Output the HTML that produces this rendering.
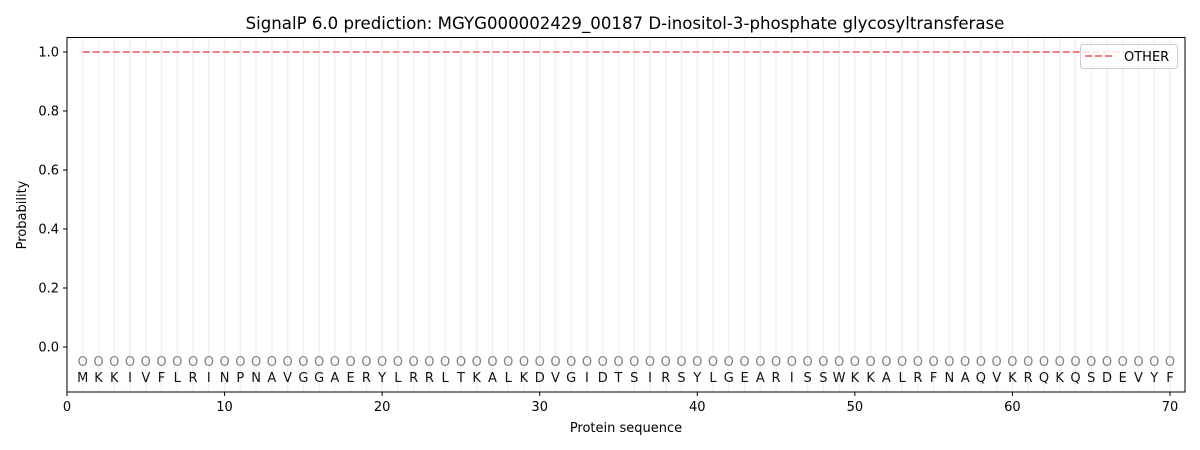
<!DOCTYPE html>
<html><head><meta charset="utf-8"><style>body{margin:0;background:#fff}svg{display:block;font-family:"DejaVu Sans","Liberation Sans",sans-serif}</style></head><body>
<svg width="1200" height="450" xmlns="http://www.w3.org/2000/svg">
<rect width="1200" height="450" fill="#fff"/>
<text x="625" y="29" font-size="16.6" text-anchor="middle">SignalP 6.0 prediction: MGYG000002429_00187 D-inositol-3-phosphate glycosyltransferase</text>
<g stroke="#ebebeb" stroke-width="1.5" stroke-opacity="0.7">
<path d="M82.76 38V392M98.51 38V392M114.27 38V392M130.03 38V392M145.79 38V392M161.54 38V392M177.3 38V392M193.06 38V392M208.81 38V392M224.57 38V392M240.33 38V392M256.08 38V392M271.84 38V392M287.6 38V392M303.36 38V392M319.11 38V392M334.87 38V392M350.63 38V392M366.38 38V392M382.14 38V392M397.9 38V392M413.65 38V392M429.41 38V392M445.17 38V392M460.93 38V392M476.68 38V392M492.44 38V392M508.2 38V392M523.95 38V392M539.71 38V392M555.47 38V392M571.22 38V392M586.98 38V392M602.74 38V392M618.5 38V392M634.25 38V392M650.01 38V392M665.77 38V392M681.52 38V392M697.28 38V392M713.04 38V392M728.79 38V392M744.55 38V392M760.31 38V392M776.07 38V392M791.82 38V392M807.58 38V392M823.34 38V392M839.09 38V392M854.85 38V392M870.61 38V392M886.36 38V392M902.12 38V392M917.88 38V392M933.64 38V392M949.39 38V392M965.15 38V392M980.91 38V392M996.66 38V392M1012.42 38V392M1028.18 38V392M1043.93 38V392M1059.69 38V392M1075.45 38V392M1091.21 38V392M1106.96 38V392M1122.72 38V392M1138.48 38V392M1154.23 38V392M1169.99 38V392"/>
</g>
<line x1="82.76" y1="52" x2="1170" y2="52" stroke="#f08080" stroke-width="2" stroke-dasharray="7,3"/>
<g font-size="13" fill="#808080" text-anchor="middle">
<text x="82.76" y="366">O</text><text x="98.51" y="366">O</text><text x="114.27" y="366">O</text><text x="130.03" y="366">O</text><text x="145.79" y="366">O</text><text x="161.54" y="366">O</text><text x="177.3" y="366">O</text><text x="193.06" y="366">O</text><text x="208.81" y="366">O</text><text x="224.57" y="366">O</text><text x="240.33" y="366">O</text><text x="256.08" y="366">O</text><text x="271.84" y="366">O</text><text x="287.6" y="366">O</text><text x="303.36" y="366">O</text><text x="319.11" y="366">O</text><text x="334.87" y="366">O</text><text x="350.63" y="366">O</text><text x="366.38" y="366">O</text><text x="382.14" y="366">O</text><text x="397.9" y="366">O</text><text x="413.65" y="366">O</text><text x="429.41" y="366">O</text><text x="445.17" y="366">O</text><text x="460.93" y="366">O</text><text x="476.68" y="366">O</text><text x="492.44" y="366">O</text><text x="508.2" y="366">O</text><text x="523.95" y="366">O</text><text x="539.71" y="366">O</text><text x="555.47" y="366">O</text><text x="571.22" y="366">O</text><text x="586.98" y="366">O</text><text x="602.74" y="366">O</text><text x="618.5" y="366">O</text><text x="634.25" y="366">O</text><text x="650.01" y="366">O</text><text x="665.77" y="366">O</text><text x="681.52" y="366">O</text><text x="697.28" y="366">O</text><text x="713.04" y="366">O</text><text x="728.79" y="366">O</text><text x="744.55" y="366">O</text><text x="760.31" y="366">O</text><text x="776.07" y="366">O</text><text x="791.82" y="366">O</text><text x="807.58" y="366">O</text><text x="823.34" y="366">O</text><text x="839.09" y="366">O</text><text x="854.85" y="366">O</text><text x="870.61" y="366">O</text><text x="886.36" y="366">O</text><text x="902.12" y="366">O</text><text x="917.88" y="366">O</text><text x="933.64" y="366">O</text><text x="949.39" y="366">O</text><text x="965.15" y="366">O</text><text x="980.91" y="366">O</text><text x="996.66" y="366">O</text><text x="1012.42" y="366">O</text><text x="1028.18" y="366">O</text><text x="1043.93" y="366">O</text><text x="1059.69" y="366">O</text><text x="1075.45" y="366">O</text><text x="1091.21" y="366">O</text><text x="1106.96" y="366">O</text><text x="1122.72" y="366">O</text><text x="1138.48" y="366">O</text><text x="1154.23" y="366">O</text><text x="1169.99" y="366">O</text>
</g>
<g font-size="13" fill="#111" text-anchor="middle">
<text x="82.76" y="382">M</text><text x="98.51" y="382">K</text><text x="114.27" y="382">K</text><text x="130.03" y="382">I</text><text x="145.79" y="382">V</text><text x="161.54" y="382">F</text><text x="177.3" y="382">L</text><text x="193.06" y="382">R</text><text x="208.81" y="382">I</text><text x="224.57" y="382">N</text><text x="240.33" y="382">P</text><text x="256.08" y="382">N</text><text x="271.84" y="382">A</text><text x="287.6" y="382">V</text><text x="303.36" y="382">G</text><text x="319.11" y="382">G</text><text x="334.87" y="382">A</text><text x="350.63" y="382">E</text><text x="366.38" y="382">R</text><text x="382.14" y="382">Y</text><text x="397.9" y="382">L</text><text x="413.65" y="382">R</text><text x="429.41" y="382">R</text><text x="445.17" y="382">L</text><text x="460.93" y="382">T</text><text x="476.68" y="382">K</text><text x="492.44" y="382">A</text><text x="508.2" y="382">L</text><text x="523.95" y="382">K</text><text x="539.71" y="382">D</text><text x="555.47" y="382">V</text><text x="571.22" y="382">G</text><text x="586.98" y="382">I</text><text x="602.74" y="382">D</text><text x="618.5" y="382">T</text><text x="634.25" y="382">S</text><text x="650.01" y="382">I</text><text x="665.77" y="382">R</text><text x="681.52" y="382">S</text><text x="697.28" y="382">Y</text><text x="713.04" y="382">L</text><text x="728.79" y="382">G</text><text x="744.55" y="382">E</text><text x="760.31" y="382">A</text><text x="776.07" y="382">R</text><text x="791.82" y="382">I</text><text x="807.58" y="382">S</text><text x="823.34" y="382">S</text><text x="839.09" y="382">W</text><text x="854.85" y="382">K</text><text x="870.61" y="382">K</text><text x="886.36" y="382">A</text><text x="902.12" y="382">L</text><text x="917.88" y="382">R</text><text x="933.64" y="382">F</text><text x="949.39" y="382">N</text><text x="965.15" y="382">A</text><text x="980.91" y="382">Q</text><text x="996.66" y="382">V</text><text x="1012.42" y="382">K</text><text x="1028.18" y="382">R</text><text x="1043.93" y="382">Q</text><text x="1059.69" y="382">K</text><text x="1075.45" y="382">Q</text><text x="1091.21" y="382">S</text><text x="1106.96" y="382">D</text><text x="1122.72" y="382">E</text><text x="1138.48" y="382">V</text><text x="1154.23" y="382">Y</text><text x="1169.99" y="382">F</text>
</g>
<rect x="67" y="37.5" width="1118" height="354.5" fill="none" stroke="#000" stroke-width="1"/>
<g stroke="#000" stroke-width="1">
<path d="M67 392v4M224.57 392v4M382.14 392v4M539.71 392v4M697.28 392v4M854.85 392v4M1012.42 392v4M1169.99 392v4"/>
<path d="M63 52h4M63 111h4M63 170h4M63 229h4M63 288h4M63 347h4"/>
</g>
<g font-size="13" fill="#000" text-anchor="middle">
<text x="67" y="411">0</text><text x="224.57" y="411">10</text><text x="382.14" y="411">20</text><text x="539.71" y="411">30</text><text x="697.28" y="411">40</text><text x="854.85" y="411">50</text><text x="1012.42" y="411">60</text><text x="1169.99" y="411">70</text>
<text x="626" y="432">Protein sequence</text>
</g>
<g font-size="13" fill="#000" text-anchor="end">
<text x="59" y="56.5">1.0</text><text x="59" y="115.5">0.8</text><text x="59" y="174.5">0.6</text><text x="59" y="233.5">0.4</text><text x="59" y="292.5">0.2</text><text x="59" y="351.5">0.0</text>
</g>
<text transform="translate(26,215) rotate(-90)" font-size="13" text-anchor="middle">Probability</text>
<rect x="1080.5" y="44.5" width="97" height="24" rx="3" fill="#fff" fill-opacity="0.8" stroke="#ccc"/>
<line x1="1085" y1="56" x2="1113" y2="56" stroke="#f08080" stroke-width="2" stroke-dasharray="7,3"/>
<text x="1124" y="61" font-size="13">OTHER</text>
</svg>
</body></html>
